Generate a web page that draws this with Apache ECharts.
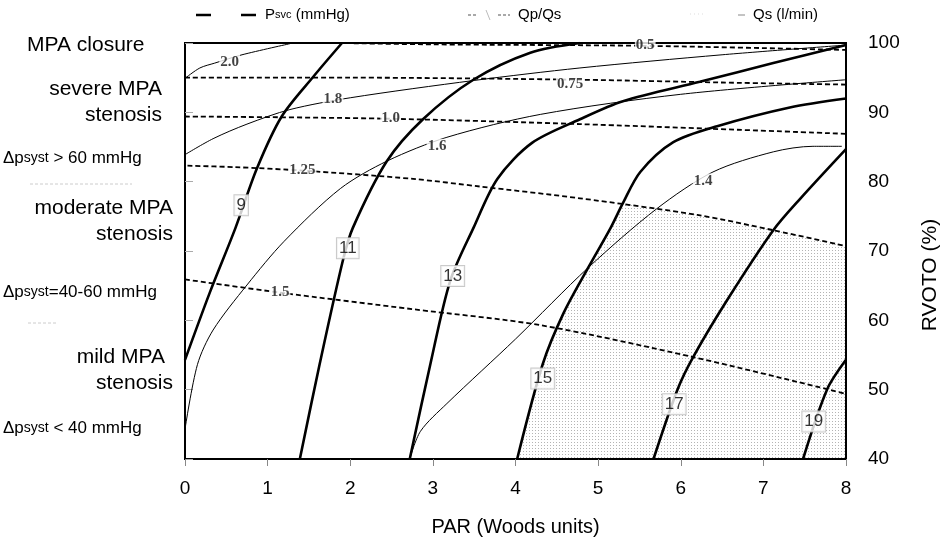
<!DOCTYPE html>
<html>
<head>
<meta charset="utf-8">
<script src="https://cdn.jsdelivr.net/npm/echarts@6/dist/echarts.min.js"></script>
<style>html,body{margin:0;padding:0;background:#fff}#c{width:945px;height:542px}</style>
</head>
<body>
<div id="c"></div>
<script>
// ---- Data (PAR in Woods units, RVOTO in %) ----
const xTicks = [0, 1, 2, 3, 4, 5, 6, 7, 8];
const yTicks = [40, 50, 60, 70, 80, 90, 100];

// Psvc (mmHg) isolines
const psvc9  = [[0,54.3],[0.3,64.0],[0.61,73.3],[0.87,81.9],[1.17,89.4],[1.55,95.1],[1.9,100]];
const psvc11 = [[1.39,40],[1.63,53.7],[1.91,68.6],[2.03,73.3],[2.44,82.9],[2.88,89.0],[3.49,94.7],[4.18,98.6],[4.78,100]];
const psvc13 = [[2.72,40],[2.97,53.7],[3.21,65.7],[3.49,73.3],[3.78,80.4],[4.2,85.6],[4.78,89.0],[5.3,91.6],[6.23,94.4],[7.12,97.1],[8,99.7]];
const psvc15 = [[4.02,40],[4.33,53.7],[4.58,61.0],[4.88,67.6],[5.15,73.3],[5.3,76.9],[5.51,81.4],[5.91,85.7],[6.44,88.0],[7.32,90.7],[8,92.0]];
const psvc17 = [[5.67,40],[5.96,50],[6.15,54.7],[6.56,62.9],[7.12,73.0],[7.45,77.6],[8,84.7]];
const psvc19 = [[7.48,40],[7.77,50],[8,54.3]];

// Qp/Qs isolines
const qpqs050 = [[1.85,100],[3,99.8],[5.5,99.6],[8,99.0]];
const qpqs075 = [[0,95.0],[2,95.0],[4.78,94.7],[6.5,94.3],[8,94.0]];
const qpqs100 = [[0,89.4],[2.37,89.1],[4.78,88.3],[8,86.9]];
const qpqs125 = [[0.03,82.3],[0.6,82.1],[1.42,81.6],[2.76,80.4],[3.57,79.3],[4.78,77.6],[6.2,75.2],[7.12,73.0],[8,70.7]];
const qpqs150 = [[0,65.9],[1.15,64.0],[2.76,61.6],[4.3,59.3],[6.15,54.7],[8,49.4]];

// Qs (l/min) isolines
const qs20 = [[0,94.9],[0.18,96.4],[0.36,97.1],[0.69,98.3],[1.27,99.9]];
const qs18 = [[0,83.9],[0.34,86.2],[0.75,88.3],[1.27,90.4],[2.0,92.1],[3.5,94.6],[4.78,96.4],[6.5,98.3],[8,99.7]];
const qs16 = [[0,44.3],[0.15,53.6],[0.34,58.6],[0.75,65.1],[1.2,71.4],[1.88,79.0],[2.45,83.0],[3.17,86.4],[4.3,89.7],[6.0,92.6],[8,94.7]];
const qs14 = [[2.72,40],[2.85,44],[3.17,48.0],[4.0,57.3],[4.88,67.6],[5.71,76.1],[6.39,81.4],[7.12,84.3],[7.6,85.1],[7.95,85.1]];

// shaded region (below Qp/Qs 1.25, right of Psvc 15)
const shadedRegion = [[4.02,40],[4.33,53.7],[4.58,61.0],[4.88,67.6],[5.15,73.3],[5.3,76.9],[6.2,75.2],[7.12,73.0],[8,70.7],[8,40]];

// isoline labels [x, y, text]
const psvcLabels = [[0.68,76.6,'9'],[1.97,70.4,'11'],[3.24,66.4,'13'],[4.33,51.6,'15'],[5.92,47.9,'17'],[7.61,45.4,'19']];
const qpqsLabels = [[5.57,99.7,'0.5'],[4.66,94.0,'0.75'],[2.49,89.1,'1.0'],[1.42,81.6,'1.25'],[1.15,64.0,'1.5']];
const qsLabels   = [[0.54,97.3,'2.0'],[1.79,91.9,'1.8'],[3.05,85.1,'1.6'],[6.27,80.1,'1.4']];

// ---- Chart ----
const chart = echarts.init(document.getElementById('c'));

const pc = document.createElement('canvas');
pc.width = 3; pc.height = 3;
const g = pc.getContext('2d');
g.fillStyle = '#b4b4b4';
g.fillRect(1,1,1,1);

function baseLine(d, z, ls){ return {type:'line', data:d, smooth:0.3, symbol:'none', silent:true, z:z, lineStyle:ls}; }
function psvcSeries(d){ return baseLine(d, 5, {color:'#000', width:2.6}); }
function qpqsSeries(d){ return baseLine(d, 4, {color:'#000', width:1.8, type:[5,3]}); }
function qsSeries(d){ return baseLine(d, 3, {color:'#000', width:1}); }

const serifLabel = {show:true, position:'inside', formatter:p=>p.data[2], color:'#111',
  fontFamily:'Liberation Serif', fontWeight:'bold', fontSize:15, backgroundColor:'#fff', padding:[0,1]};

const series = [
  {type:'custom', silent:true, z:1, data:[[0,40]],
   renderItem:function(params, api){
     const pts = shadedRegion.map(p=>api.coord(p));
     return {type:'polygon', shape:{points:pts}, style:{fill:{image:pc, repeat:'repeat'}, stroke:null}};
   }},
  psvcSeries(psvc9), psvcSeries(psvc11), psvcSeries(psvc13), psvcSeries(psvc15), psvcSeries(psvc17), psvcSeries(psvc19),
  qpqsSeries(qpqs050), qpqsSeries(qpqs075), qpqsSeries(qpqs100), qpqsSeries(qpqs125), qpqsSeries(qpqs150),
  qsSeries(qs20), qsSeries(qs18), qsSeries(qs16), qsSeries(qs14),
  {type:'scatter', data:psvcLabels, symbolSize:0, silent:true, z:10,
   label:{show:true, position:'inside', formatter:p=>p.data[2], color:'#000', fontFamily:'Liberation Sans',
     fontSize:17, backgroundColor:'#fff', borderColor:'#bbb', borderWidth:1, padding:[2,2,1,2]}},
  {type:'scatter', data:qpqsLabels, symbolSize:0, silent:true, z:10, label:serifLabel},
  {type:'scatter', data:qsLabels, symbolSize:0, silent:true, z:10, label:serifLabel}
];

const sans = 'Liberation Sans';
const dRich = {a:{fontSize:17, fontFamily:sans, color:'#000'}, b:{fontSize:14, fontFamily:sans, color:'#000'}};
const lRich = {a:{fontSize:15, fontFamily:sans, color:'#000'}, b:{fontSize:11, fontFamily:sans, color:'#000'}};

chart.setOption({
  animation:false,
  grid:{left:185, right:99, top:43, bottom:79, show:true, borderColor:'#000', borderWidth:2, backgroundColor:'transparent'},
  xAxis:{type:'value', min:xTicks[0], max:xTicks[xTicks.length-1], interval:1,
    axisLine:{show:false}, splitLine:{show:false},
    axisTick:{show:true, length:7, lineStyle:{color:'#888'}},
    axisLabel:{fontSize:19, color:'#000', fontFamily:sans, margin:20},
    name:'PAR (Woods units)', nameLocation:'middle', nameGap:58,
    nameTextStyle:{fontSize:20, color:'#000', fontFamily:sans}},
  yAxis:{type:'value', position:'right', min:yTicks[0], max:yTicks[yTicks.length-1], interval:10,
    axisLine:{show:false}, splitLine:{show:false},
    axisTick:{show:true, length:8, lineStyle:{color:'#aaa'}},
    axisLabel:{fontSize:19, color:'#000', fontFamily:sans, margin:22}},
  series:series,
  graphic:[
    // left-side categories
    {type:'text', x:27, y:45, style:{text:'MPA closure', verticalAlign:'middle', font:'21px "Liberation Sans"', fill:'#000'}},
    {type:'text', x:162, y:89, style:{text:'severe MPA', align:'right', verticalAlign:'middle', font:'21px "Liberation Sans"', fill:'#000'}},
    {type:'text', x:162, y:115, style:{text:'stenosis', align:'right', verticalAlign:'middle', font:'21px "Liberation Sans"', fill:'#000'}},
    {type:'text', x:3, y:158, style:{rich:dRich, text:'{a|Δp}{b|syst}{a| > 60 mmHg}', verticalAlign:'middle'}},
    {type:'text', x:173, y:208, style:{text:'moderate MPA', align:'right', verticalAlign:'middle', font:'21px "Liberation Sans"', fill:'#000'}},
    {type:'text', x:173, y:234, style:{text:'stenosis', align:'right', verticalAlign:'middle', font:'21px "Liberation Sans"', fill:'#000'}},
    {type:'text', x:3, y:292, style:{rich:dRich, text:'{a|Δp}{b|syst}{a|=40-60 mmHg}', verticalAlign:'middle'}},
    {type:'text', x:165, y:357, style:{text:'mild MPA', align:'right', verticalAlign:'middle', font:'21px "Liberation Sans"', fill:'#000'}},
    {type:'text', x:173, y:383, style:{text:'stenosis', align:'right', verticalAlign:'middle', font:'21px "Liberation Sans"', fill:'#000'}},
    {type:'text', x:3, y:428, style:{rich:dRich, text:'{a|Δp}{b|syst}{a| < 40 mmHg}', verticalAlign:'middle'}},
    {type:'line', shape:{x1:30, y1:184, x2:132, y2:184}, style:{stroke:'#ccc', lineWidth:1, lineDash:[3,2]}},
    {type:'line', shape:{x1:28, y1:323, x2:58, y2:323}, style:{stroke:'#ccc', lineWidth:1, lineDash:[3,2]}},
    // y-axis title
    {type:'text', x:930, y:275, rotation:Math.PI/2, style:{text:'RVOTO (%)', align:'center', verticalAlign:'middle', font:'21px "Liberation Sans"', fill:'#000'}},
    // legend
    {type:'line', shape:{x1:196, y1:15, x2:211, y2:15}, style:{stroke:'#000', lineWidth:2.5}},
    {type:'line', shape:{x1:241, y1:15, x2:256, y2:15}, style:{stroke:'#000', lineWidth:2.5}},
    {type:'text', x:265, y:15, style:{rich:lRich, text:'{a|P}{b|svc}{a| (mmHg)}', verticalAlign:'middle'}},
    {type:'line', shape:{x1:468, y1:15, x2:478, y2:15}, style:{stroke:'#555', lineWidth:1.2, lineDash:[3,2]}},
    {type:'line', shape:{x1:486, y1:10, x2:490, y2:20}, style:{stroke:'#bbb', lineWidth:1}},
    {type:'line', shape:{x1:498, y1:15, x2:510, y2:15}, style:{stroke:'#555', lineWidth:1.2, lineDash:[3,2]}},
    {type:'text', x:518, y:15, style:{text:'Qp/Qs', verticalAlign:'middle', font:'15px "Liberation Sans"', fill:'#000'}},
    {type:'line', shape:{x1:690, y1:14, x2:703, y2:14}, style:{stroke:'#ddd', lineWidth:1, lineDash:[1,3]}},
    {type:'line', shape:{x1:738, y1:15, x2:745, y2:15}, style:{stroke:'#888', lineWidth:1}},
    {type:'text', x:753, y:15, style:{text:'Qs (l/min)', verticalAlign:'middle', font:'15px "Liberation Sans"', fill:'#000'}}
  ]
});
</script>
</body>
</html>
